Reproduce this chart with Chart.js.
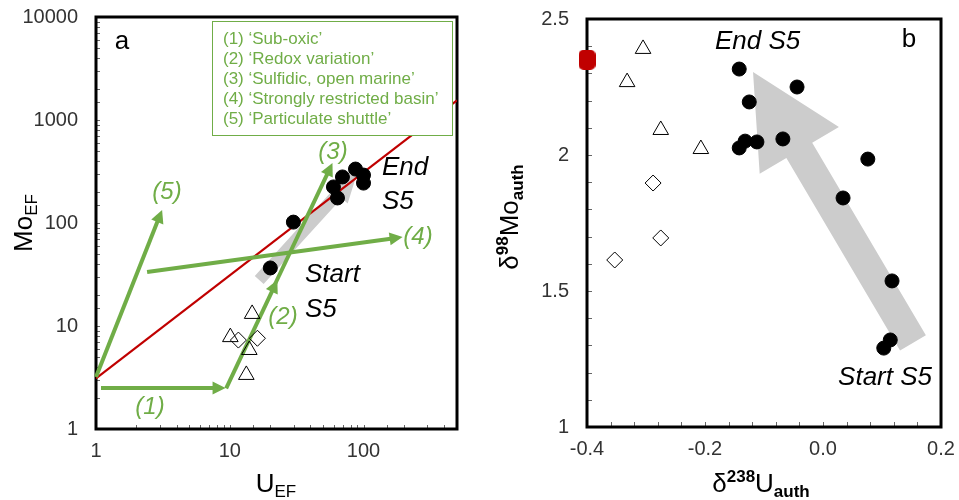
<!DOCTYPE html>
<html><head><meta charset="utf-8">
<script src="https://cdn.jsdelivr.net/npm/chart.js@4.4.1/dist/chart.umd.min.js"></script>
<style>
html,body{margin:0;padding:0;background:#fff;}
#wrap{position:relative;width:959px;height:500px;overflow:hidden;}
#ca{position:absolute;left:0;top:0;}
#cb{position:absolute;left:480px;top:0;}
</style></head><body>
<div id="wrap"><canvas id="ca" width="470" height="500"></canvas><canvas id="cb" width="479" height="500"></canvas></div>
<script>
// ---------- Panel a data ----------
const aCircleU  = [20.1, 29.9, 59.6, 63.9, 69.6, 87.1, 100, 100];
const aCircleMo = [36.6, 102, 224, 175, 280, 334, 292, 244];
const aTriU  = [14.7, 10.1, 14.0, 13.3];
const aTriMo = [13.1, 7.8, 5.85, 3.35];
const aDiaU  = [11.6, 16.1];
const aDiaMo = [7.3, 7.6];
const seawaterU  = [1, 500];
const seawaterMo = [3.1, 1550];
const aXTickLabels = ['1', '10', '100'];
const aYTickLabels = ['1', '10', '100', '1000', '10000'];
const legendLines = ['(1) \u2018Sub-oxic\u2019', '(2) \u2018Redox variation\u2019', '(3) \u2018Sulfidic, open marine\u2019', '(4) \u2018Strongly restricted basin\u2019', '(5) \u2018Particulate shuttle\u2019'];
const arrowLabels  = ['(1)', '(2)', '(3)', '(4)', '(5)'];
const arrowStartU  = [1.09, 9.4, 21, 2.41, 1];
const arrowStartMo = [2.5, 2.48, 23, 33.4, 3.2];
const arrowEndU    = [9.3, 22.7, 58.6, 196, 3.12];
const arrowEndMo   = [2.5, 28, 383, 73, 134];
const aTrendU  = [16.6, 90.2];   // grey trend arrow, tail -> tip
const aTrendMo = [28, 313];

// ---------- Panel b data ----------
const bCircleX = [-0.142, -0.125, -0.044, -0.142, -0.132, -0.112, -0.068, 0.076, 0.034, 0.117, 0.114, 0.103];
const bCircleY = [2.316, 2.195, 2.250, 2.026, 2.051, 2.048, 2.059, 1.985, 1.842, 1.537, 1.320, 1.290];
const bTriX = [-0.305, -0.332, -0.275, -0.207];
const bTriY = [2.390, 2.268, 2.092, 2.022];
const bDiaX = [-0.288, -0.275, -0.353];
const bDiaY = [1.897, 1.695, 1.614];
const bSeawaterX = [-0.4];
const bSeawaterY = [2.35];
const bXTickValues = [-0.4, -0.2, 0.0, 0.2];
const bXTickLabels = ['-0.4', '-0.2', '0.0', '0.2'];
const bYTickValues = [1, 1.5, 2, 2.5];
const bYTickLabels = ['1', '1.5', '2', '2.5'];
const bTrendX = [0.1525, -0.1186];
const bTrendY = [1.309, 2.305];

// ---------- styles ----------
const FONT = "'Liberation Sans', Arial, sans-serif";
const GREEN = '#70AD47';
const RED = '#C00000';
const GREY = '#cccccc';
const TICKCOL = '#333333';

function pts(xs, ys) { return xs.map((x, i) => ({x: x, y: ys[i]})); }

function lineArrow(ctx, x0, y0, x1, y1, lw, hl, hw, color) {
  const dx = x1 - x0, dy = y1 - y0, L = Math.hypot(dx, dy), ux = dx / L, uy = dy / L, px = -uy, py = ux;
  const bx = x1 - ux * hl, by = y1 - uy * hl;
  ctx.save();
  ctx.strokeStyle = color; ctx.lineWidth = lw; ctx.lineCap = 'butt';
  ctx.beginPath(); ctx.moveTo(x0, y0); ctx.lineTo(bx + ux, by + uy); ctx.stroke();
  ctx.fillStyle = color;
  ctx.beginPath(); ctx.moveTo(x1, y1);
  ctx.lineTo(bx + px * hw / 2, by + py * hw / 2);
  ctx.lineTo(bx - px * hw / 2, by - py * hw / 2);
  ctx.closePath(); ctx.fill();
  ctx.restore();
}
function blockArrow(ctx, x0, y0, x1, y1, w, hl, hw, color) {
  const dx = x1 - x0, dy = y1 - y0, L = Math.hypot(dx, dy), ux = dx / L, uy = dy / L, px = -uy, py = ux;
  const bx = x1 - ux * hl, by = y1 - uy * hl;
  ctx.save(); ctx.fillStyle = color; ctx.beginPath();
  ctx.moveTo(x0 + px * w / 2, y0 + py * w / 2);
  ctx.lineTo(bx + px * w / 2, by + py * w / 2);
  ctx.lineTo(bx + px * hw / 2, by + py * hw / 2);
  ctx.lineTo(x1, y1);
  ctx.lineTo(bx - px * hw / 2, by - py * hw / 2);
  ctx.lineTo(bx - px * w / 2, by - py * w / 2);
  ctx.lineTo(x0 - px * w / 2, y0 - py * w / 2);
  ctx.closePath(); ctx.fill(); ctx.restore();
}
function richText(ctx, parts, x, y, rot, color) {
  ctx.save();
  ctx.translate(x, y); if (rot) ctx.rotate(rot);
  ctx.fillStyle = color || '#000'; ctx.textBaseline = 'alphabetic'; ctx.textAlign = 'left';
  let total = 0;
  parts.forEach(p => { ctx.font = (p.bold ? 'bold ' : '') + p.size + 'px ' + FONT; p.w = ctx.measureText(p.t).width; total += p.w; });
  let cx = -total / 2;
  parts.forEach(p => { ctx.font = (p.bold ? 'bold ' : '') + p.size + 'px ' + FONT; ctx.fillText(p.t, cx, p.dy || 0); cx += p.w; });
  ctx.restore();
}
function text(ctx, t, x, y, font, color, align) {
  ctx.save(); ctx.font = font; ctx.fillStyle = color; ctx.textAlign = align || 'left'; ctx.textBaseline = 'middle';
  ctx.fillText(t, x, y); ctx.restore();
}
function frameAndTicks(chart, len) {
  const ctx = chart.ctx, a = chart.chartArea, sx = chart.scales.x, sy = chart.scales.y;
  ctx.save();
  ctx.strokeStyle = '#666'; ctx.lineWidth = 1;
  ctx.beginPath();
  sx.ticks.forEach(t => { const p = Math.round(sx.getPixelForValue(t.value)) + 0.5; ctx.moveTo(p, a.bottom); ctx.lineTo(p, a.bottom - len); });
  sy.ticks.forEach(t => { const p = Math.round(sy.getPixelForValue(t.value)) + 0.5; ctx.moveTo(a.left, p); ctx.lineTo(a.left + len, p); });
  ctx.stroke();
  ctx.strokeStyle = '#000'; ctx.lineWidth = 3;
  ctx.strokeRect(a.left, a.top, a.right - a.left, a.bottom - a.top);
  ctx.restore();
}
function zeroPad(s) { s.paddingTop = 0; s.paddingBottom = 0; s.paddingLeft = 0; s.paddingRight = 0; }

// ---------- Panel a ----------
const isPow10 = v => { const l = Math.log10(v); return Math.abs(l - Math.round(l)) < 1e-9; };
const pluginA = {
  id: 'panelA',
  beforeDatasetsDraw(chart) {
    const ctx = chart.ctx, sx = chart.scales.x, sy = chart.scales.y;
    frameAndTicks(chart, 4);
    blockArrow(ctx, sx.getPixelForValue(aTrendU[0]), sy.getPixelForValue(aTrendMo[0]),
      sx.getPixelForValue(aTrendU[1]), sy.getPixelForValue(aTrendMo[1]), 12, 30, 28, GREY);
  },
  afterDatasetDraw(chart, args) {
    if (args.index !== 3) return;
    const ctx = chart.ctx, sx = chart.scales.x, sy = chart.scales.y;
    for (let i = 0; i < arrowLabels.length; i++) {
      lineArrow(ctx, sx.getPixelForValue(arrowStartU[i]), sy.getPixelForValue(arrowStartMo[i]),
        sx.getPixelForValue(arrowEndU[i]), sy.getPixelForValue(arrowEndMo[i]), 4, 13, 13, GREEN);
    }
  },
  afterDatasetsDraw(chart) {
    const ctx = chart.ctx;
    ctx.save(); ctx.fillStyle = '#fff'; ctx.fillRect(212, 21, 240, 114);
    ctx.strokeStyle = GREEN; ctx.lineWidth = 1; ctx.strokeRect(212.5, 21.5, 240, 114); ctx.restore();
    legendLines.forEach((t, i) => text(ctx, t, 223, 39 + i * 20, '17px ' + FONT, GREEN));
    const gl = [[150, 407], [283, 317], [333, 152], [418, 237], [167, 192]];
    arrowLabels.forEach((t, i) => text(ctx, t, gl[i][0], gl[i][1], 'italic 24px ' + FONT, GREEN, 'center'));
    text(ctx, 'a', 122, 42, '26px ' + FONT, '#000', 'center');
    text(ctx, 'End', 382, 168, 'italic 26px ' + FONT, '#000');
    text(ctx, 'S5', 382, 202, 'italic 26px ' + FONT, '#000');
    text(ctx, 'Start', 305, 275, 'italic 26px ' + FONT, '#000');
    text(ctx, 'S5', 305, 310, 'italic 26px ' + FONT, '#000');
    richText(ctx, [{t: 'Mo', size: 26}, {t: 'EF', size: 17, dy: 5}], 32, 223, -Math.PI / 2);
    richText(ctx, [{t: 'U', size: 26}, {t: 'EF', size: 17, dy: 5}], 276, 492, 0);
  }
};

new Chart(document.getElementById('ca'), {
  type: 'scatter',
  data: { datasets: [
    { data: pts(aCircleU, aCircleMo), pointStyle: 'circle', pointRadius: 7, pointBorderWidth: 1, pointBackgroundColor: '#000', pointBorderColor: '#000', clip: false },
    { data: pts(aTriU, aTriMo), pointStyle: 'triangle', pointRadius: 9, pointBorderWidth: 1, pointBackgroundColor: 'rgba(0,0,0,0)', pointBorderColor: '#000', clip: false },
    { data: pts(aDiaU, aDiaMo), pointStyle: 'rectRot', pointRadius: 8, pointBorderWidth: 1, pointBackgroundColor: 'rgba(0,0,0,0)', pointBorderColor: '#000', clip: false },
    { type: 'line', data: pts(seawaterU, seawaterMo), borderColor: RED, borderWidth: 2.2, pointRadius: 0, fill: false, showLine: true }
  ]},
  options: {
    responsive: false, animation: false, events: [],
    layout: { padding: { left: 0, top: 17, right: 13, bottom: 0 } },
    plugins: { legend: { display: false }, tooltip: { enabled: false } },
    scales: {
      x: { type: 'logarithmic', min: 1, max: 500, grid: { display: false, drawTicks: false }, border: { display: false },
        afterFit: s => { s.height = 71; zeroPad(s); },
        ticks: { autoSkip: false, maxRotation: 0, minRotation: 0, padding: 10, color: TICKCOL, font: { family: FONT, size: 20 },
          callback: v => (isPow10(v) && aXTickLabels.includes(String(Math.round(v)))) ? String(Math.round(v)) : '' } },
      y: { type: 'logarithmic', min: 1, max: 10000, grid: { display: false, drawTicks: false }, border: { display: false },
        afterFit: s => { s.width = 96; zeroPad(s); },
        ticks: { autoSkip: false, padding: 18, color: TICKCOL, font: { family: FONT, size: 20 },
          callback: v => (isPow10(v) && aYTickLabels.includes(String(Math.round(v)))) ? String(Math.round(v)) : '' } }
    }
  },
  plugins: [pluginA]
});

// ---------- Panel b ----------
const redMark = document.createElement('canvas');
redMark.width = 17; redMark.height = 20;
(function () { const c = redMark.getContext('2d'); c.fillStyle = RED; c.beginPath(); c.roundRect(0, 0, 17, 20, 5); c.fill(); })();

function buildTicks(majorVals, step) {
  const out = [];
  const lo = majorVals[0], hi = majorVals[majorVals.length - 1];
  const n = Math.round((hi - lo) / step);
  for (let i = 0; i <= n; i++) out.push({ value: Math.round((lo + i * step) * 1000) / 1000 });
  return out;
}
function labelFor(v, vals, labels) {
  for (let i = 0; i < vals.length; i++) if (Math.abs(vals[i] - v) < 1e-6) return labels[i];
  return '';
}
const pluginB = {
  id: 'panelB',
  beforeDatasetsDraw(chart) {
    const ctx = chart.ctx, sx = chart.scales.x, sy = chart.scales.y;
    frameAndTicks(chart, 5);
    blockArrow(ctx, sx.getPixelForValue(bTrendX[0]), sy.getPixelForValue(bTrendY[0]),
      sx.getPixelForValue(bTrendX[1]), sy.getPixelForValue(bTrendY[1]), 30, 91, 92, GREY);
  },
  afterDatasetsDraw(chart) {
    const ctx = chart.ctx;
    text(ctx, 'End S5', 235, 42, 'italic 26px ' + FONT, '#000');
    text(ctx, 'b', 429, 40, '26px ' + FONT, '#000', 'center');
    text(ctx, 'Start S5', 452, 378, 'italic 26px ' + FONT, '#000', 'right');
    richText(ctx, [{t: '\u03b4', size: 26}, {t: '98', size: 17, bold: true, dy: -10}, {t: 'Mo', size: 26}, {t: 'auth', size: 17, bold: true, dy: 5}], 38, 217, -Math.PI / 2);
    richText(ctx, [{t: '\u03b4', size: 26}, {t: '238', size: 17, bold: true, dy: -10}, {t: 'U', size: 26}, {t: 'auth', size: 17, bold: true, dy: 5}], 281, 492, 0);
  }
};

new Chart(document.getElementById('cb'), {
  type: 'scatter',
  data: { datasets: [
    { data: pts(bSeawaterX, bSeawaterY), pointStyle: redMark, pointRadius: 9, clip: false },
    { data: pts(bCircleX, bCircleY), pointStyle: 'circle', pointRadius: 7, pointBorderWidth: 1, pointBackgroundColor: '#000', pointBorderColor: '#000', clip: false },
    { data: pts(bTriX, bTriY), pointStyle: 'triangle', pointRadius: 9, pointBorderWidth: 1, pointBackgroundColor: 'rgba(0,0,0,0)', pointBorderColor: '#000', clip: false },
    { data: pts(bDiaX, bDiaY), pointStyle: 'rectRot', pointRadius: 8, pointBorderWidth: 1, pointBackgroundColor: 'rgba(0,0,0,0)', pointBorderColor: '#000', clip: false }
  ]},
  options: {
    responsive: false, animation: false, events: [],
    layout: { padding: { left: 0, top: 19, right: 18, bottom: 0 } },
    plugins: { legend: { display: false }, tooltip: { enabled: false } },
    scales: {
      x: { type: 'linear', min: -0.4, max: 0.2, grid: { display: false, drawTicks: false }, border: { display: false },
        afterFit: s => { s.height = 73; zeroPad(s); },
        afterBuildTicks: s => { s.ticks = buildTicks(bXTickValues, 0.04); },
        ticks: { autoSkip: false, maxRotation: 0, minRotation: 0, padding: 10, color: TICKCOL, font: { family: FONT, size: 20 },
          callback: v => labelFor(v, bXTickValues, bXTickLabels) } },
      y: { type: 'linear', min: 1, max: 2.5, grid: { display: false, drawTicks: false }, border: { display: false },
        afterFit: s => { s.width = 107; zeroPad(s); },
        afterBuildTicks: s => { s.ticks = buildTicks(bYTickValues, 0.1); },
        ticks: { autoSkip: false, padding: 18, color: TICKCOL, font: { family: FONT, size: 20 },
          callback: v => labelFor(v, bYTickValues, bYTickLabels) } }
    }
  },
  plugins: [pluginB]
});
</script>
</body></html>
